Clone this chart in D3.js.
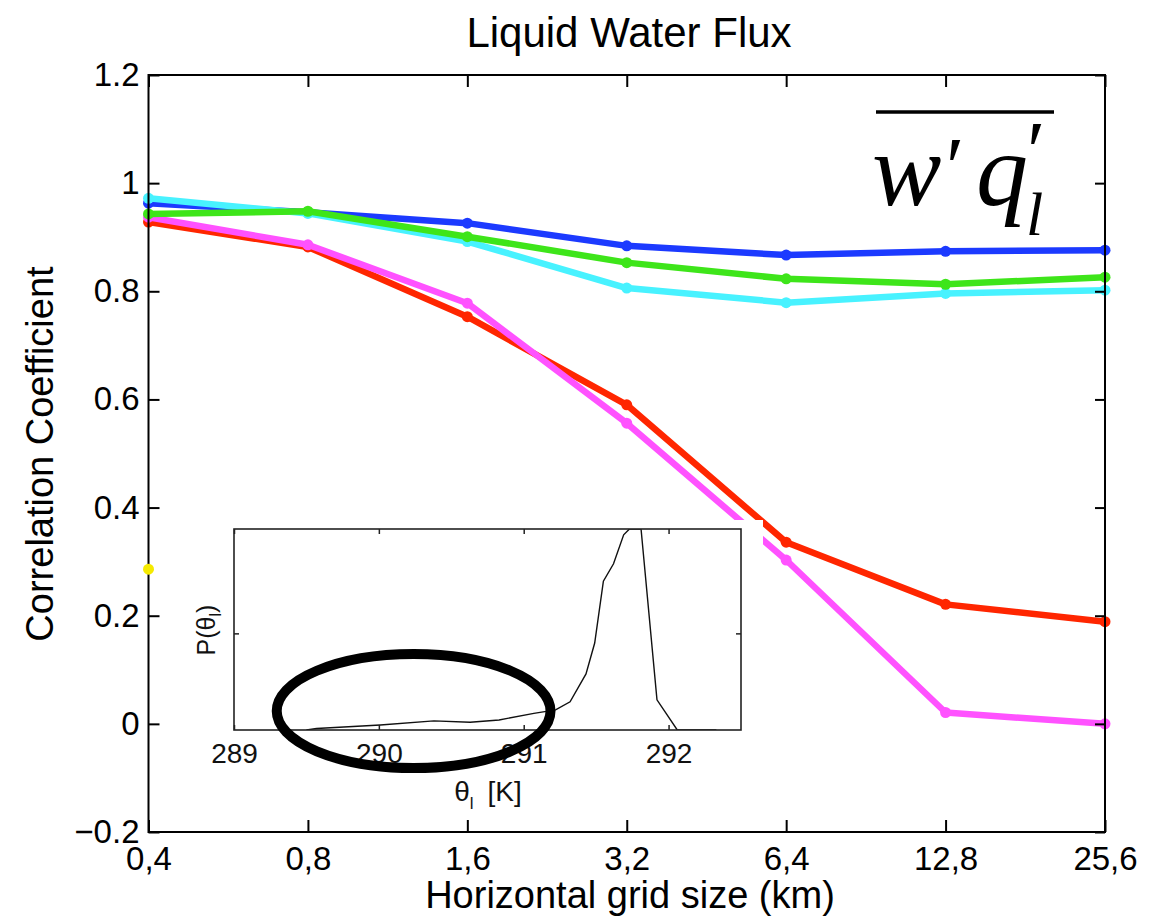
<!DOCTYPE html>
<html>
<head>
<meta charset="utf-8">
<script src="https://cdn.jsdelivr.net/npm/d3@7"></script>
<style>
  html, body { margin: 0; padding: 0; background: #fff; }
  svg { display: block; }
</style>
</head>
<body>
<svg id="chart" width="1167" height="917"></svg>
<script>
// Horizontal grid sizes (km) and their tick labels
const gridSizes  = [0.4, 0.8, 1.6, 3.2, 6.4, 12.8, 25.6];
const gridLabels = ["0,4", "0,8", "1,6", "3,2", "6,4", "12,8", "25,6"];

// Correlation coefficient of the liquid water flux, one array per curve
const blueValues    = [0.963, 0.946, 0.926, 0.884, 0.867, 0.874, 0.876];
const greenValues   = [0.943, 0.948, 0.901, 0.853, 0.823, 0.813, 0.826];
const cyanValues    = [0.972, 0.944, 0.892, 0.806, 0.779, 0.796, 0.802];
const redValues     = [0.928, 0.882, 0.753, 0.590, 0.336, 0.221, 0.189];
const magentaValues = [0.937, 0.886, 0.778, 0.556, 0.303, 0.021, 0.000];

// Lone point sitting on the left axis
const strayPoint = [0.4, 0.286];

const yTicks      = [-0.2, 0, 0.2, 0.4, 0.6, 0.8, 1, 1.2];
const yTickLabels = ["\u22120.2", "0", "0.2", "0.4", "0.6", "0.8", "1", "1.2"];

// Inset: distribution of liquid water potential temperature
const thetaTicks  = [289, 290, 291, 292];
const thetaValues = [289.50, 289.57, 290.01, 290.38, 290.63, 290.83, 291.07, 291.22, 291.32,
                     291.43, 291.49, 291.55, 291.62, 291.69, 291.73, 291.81, 291.92, 292.06, 292.33];
const pdfValues   = [0.000, 0.008, 0.026, 0.047, 0.040, 0.052, 0.086, 0.104, 0.146,
                     0.290, 0.450, 0.770, 0.860, 1.010, 1.040, 1.040, 0.156, 0.000, 0.000];
const pdfTicks    = [0.5];

const series = [
  { name: "red",     values: redValues,     color: "#ff2600" },
  { name: "magenta", values: magentaValues, color: "#ff52ff" },
  { name: "blue",    values: blueValues,    color: "#1c3aff" },
  { name: "cyan",    values: cyanValues,    color: "#48f2ff" },
  { name: "green",   values: greenValues,   color: "#3ee51a" }
];

const sans  = "'Liberation Sans', Arial, Helvetica, sans-serif";
const serif = "'Liberation Serif', 'Times New Roman', 'DejaVu Serif', serif";

const svg = d3.select("#chart").style("font-family", sans);

// ---- main axes ----
const plot = { left: 148.5, right: 1105, top: 75, bottom: 832 };
const x = d3.scaleLog().base(2).domain([0.4, 25.6]).range([plot.left, plot.right]);
const y = d3.scaleLinear().domain([-0.2, 1.2]).range([plot.bottom, plot.top]);

// title
svg.append("text")
  .attr("x", 629).attr("y", 47)
  .attr("text-anchor", "middle")
  .style("font-family", sans).style("font-size", "42px")
  .text("Liquid Water Flux");

// data lines
const line = d3.line().x((d, i) => x(gridSizes[i])).y(d => y(d));
const gSeries = svg.append("g");
series.forEach(s => {
  gSeries.append("path")
    .attr("d", line(s.values))
    .attr("fill", "none")
    .attr("stroke", s.color)
    .attr("stroke-width", 6.5)
    .attr("stroke-linejoin", "round");
  gSeries.selectAll(null)
    .data(s.values)
    .enter().append("circle")
    .attr("cx", (d, i) => x(gridSizes[i]))
    .attr("cy", d => y(d))
    .attr("r", 5.5)
    .attr("fill", s.color);
});

// frame
svg.append("rect")
  .attr("x", plot.left).attr("y", plot.top)
  .attr("width", plot.right - plot.left).attr("height", plot.bottom - plot.top)
  .attr("fill", "none").attr("stroke", "#000").attr("stroke-width", 2);

// bottom axis with inward ticks
const xAxis = svg.append("g")
  .attr("transform", `translate(0,${plot.bottom})`)
  .call(d3.axisBottom(x).tickValues(gridSizes).tickFormat((d, i) => gridLabels[i])
        .tickSizeInner(-12).tickSizeOuter(0).tickPadding(15));
// top axis, ticks only
const xAxisTop = svg.append("g")
  .attr("transform", `translate(0,${plot.top})`)
  .call(d3.axisTop(x).tickValues(gridSizes).tickFormat("")
        .tickSizeInner(-12).tickSizeOuter(0));
// left axis
const yAxis = svg.append("g")
  .attr("transform", `translate(${plot.left},0)`)
  .call(d3.axisLeft(y).tickValues(yTicks).tickFormat((d, i) => yTickLabels[i])
        .tickSizeInner(-11).tickSizeOuter(0).tickPadding(9));
// right axis, ticks only
const yAxisRight = svg.append("g")
  .attr("transform", `translate(${plot.right},0)`)
  .call(d3.axisRight(y).tickValues(yTicks).tickFormat("")
        .tickSizeInner(-10).tickSizeOuter(0));

[xAxis, xAxisTop, yAxis, yAxisRight].forEach(g => {
  g.select(".domain").remove();
  g.selectAll(".tick line").attr("stroke", "#000").attr("stroke-width", 2);
  g.selectAll("text")
    .style("font-family", sans).style("font-size", "33px").attr("fill", "#000");
});

// axis titles
svg.append("text")
  .attr("x", 630).attr("y", 908)
  .attr("text-anchor", "middle")
  .style("font-family", sans).style("font-size", "38px")
  .text("Horizontal grid size (km)");
svg.append("text")
  .attr("transform", "translate(53,454) rotate(-90)")
  .attr("text-anchor", "middle")
  .style("font-family", sans).style("font-size", "38px")
  .text("Correlation Coefficient");

// stray point on the axis
svg.append("circle")
  .attr("cx", x(strayPoint[0])).attr("cy", y(strayPoint[1]))
  .attr("r", 5.5).attr("fill", "#f5ea00");

// ---- inset ----
const inset = { left: 234, right: 741, top: 529, bottom: 730 };
const tx = d3.scaleLinear().domain([289, 292.5]).range([inset.left, inset.right]);
const ty = d3.scaleLinear().domain([0, 1.04]).range([inset.bottom, inset.top]);

// white backing
svg.append("rect")
  .attr("x", 222).attr("y", 520)
  .attr("width", 763 - 222).attr("height", 805 - 520)
  .attr("fill", "#fff");

svg.append("defs").append("clipPath").attr("id", "insetClip")
  .append("rect")
  .attr("x", inset.left).attr("y", inset.top)
  .attr("width", inset.right - inset.left).attr("height", inset.bottom - inset.top);

const pdfLine = d3.line().x((d, i) => tx(thetaValues[i])).y(d => ty(d));
svg.append("path")
  .attr("d", pdfLine(pdfValues))
  .attr("clip-path", "url(#insetClip)")
  .attr("fill", "none")
  .attr("stroke", "#111")
  .attr("stroke-width", 1.4);

svg.append("rect")
  .attr("x", inset.left).attr("y", inset.top)
  .attr("width", inset.right - inset.left).attr("height", inset.bottom - inset.top)
  .attr("fill", "none").attr("stroke", "#222").attr("stroke-width", 1.6);

const iAxB = svg.append("g").attr("transform", `translate(0,${inset.bottom})`)
  .call(d3.axisBottom(tx).tickValues(thetaTicks).tickFormat(d3.format("d"))
        .tickSizeInner(-5).tickSizeOuter(0).tickPadding(13));
const iAxT = svg.append("g").attr("transform", `translate(0,${inset.top})`)
  .call(d3.axisTop(tx).tickValues(thetaTicks).tickFormat("")
        .tickSizeInner(-5).tickSizeOuter(0));
const iAxL = svg.append("g").attr("transform", `translate(${inset.left},0)`)
  .call(d3.axisLeft(ty).tickValues(pdfTicks).tickFormat("")
        .tickSizeInner(-5).tickSizeOuter(0));
const iAxR = svg.append("g").attr("transform", `translate(${inset.right},0)`)
  .call(d3.axisRight(ty).tickValues(pdfTicks).tickFormat("")
        .tickSizeInner(-5).tickSizeOuter(0));
[iAxB, iAxT, iAxL, iAxR].forEach(g => {
  g.select(".domain").remove();
  g.selectAll(".tick line").attr("stroke", "#222").attr("stroke-width", 1.5);
  g.selectAll("text")
    .style("font-family", sans).style("font-size", "28px").attr("fill", "#111");
});

// inset axis titles
const thetaLabel = svg.append("text")
  .attr("x", 488).attr("y", 801)
  .attr("text-anchor", "middle")
  .style("font-family", sans).style("font-size", "28px").attr("fill", "#111");
thetaLabel.append("tspan").text("\u03b8");
thetaLabel.append("tspan").style("font-size", "17px").attr("dy", 8).text("l");
thetaLabel.append("tspan").attr("dy", -8).text("\u2002[K]");

const pLabel = svg.append("text")
  .attr("transform", "translate(215,630) rotate(-90)")
  .attr("text-anchor", "middle")
  .style("font-family", sans).style("font-size", "25px").attr("fill", "#111");
pLabel.append("tspan").text("P(\u03b8");
pLabel.append("tspan").style("font-size", "16px").attr("dy", 6).text("l");
pLabel.append("tspan").attr("dy", -6).text(")");

// highlight ring around the low-temperature tail
const ringCenter = [290.24, 0.098];
const ringRadius = [0.945, 0.295];
svg.append("ellipse")
  .attr("cx", tx(ringCenter[0])).attr("cy", ty(ringCenter[1]))
  .attr("rx", tx(ringCenter[0] + ringRadius[0]) - tx(ringCenter[0]))
  .attr("ry", ty(0) - ty(ringRadius[1]))
  .attr("fill", "none").attr("stroke", "#000").attr("stroke-width", 10);

// ---- flux symbol: overlined w'q'_l ----
svg.append("line")
  .attr("x1", 876).attr("x2", 1054).attr("y1", 112).attr("y2", 112)
  .attr("stroke", "#000").attr("stroke-width", 3.5);
const sym = svg.append("text")
  .style("font-family", serif).style("font-style", "italic").attr("fill", "#000");
sym.append("tspan").attr("x", 872).attr("y", 205).style("font-size", "104px").text("w");
sym.append("tspan").attr("x", 946).attr("y", 196).style("font-size", "84px")
  .style("font-style", "normal").text("\u2032");
sym.append("tspan").attr("x", 976).attr("y", 205).style("font-size", "104px").text("q");
sym.append("tspan").attr("x", 1027).attr("y", 180).style("font-size", "84px")
  .style("font-style", "normal").text("\u2032");
sym.append("tspan").attr("x", 1026).attr("y", 235).style("font-size", "62px").text("l");
</script>
</body>
</html>
